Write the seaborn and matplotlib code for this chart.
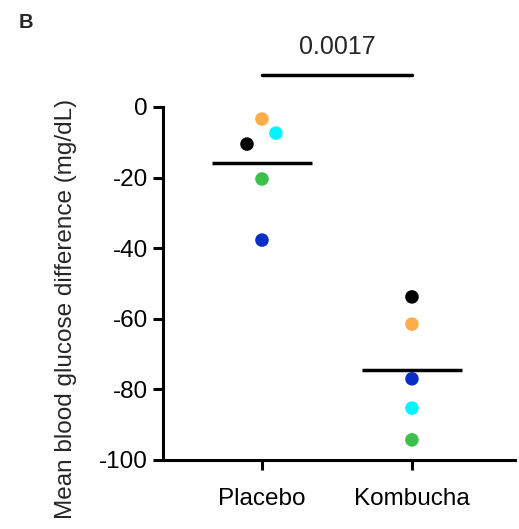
import numpy as np
import matplotlib
matplotlib.use("Agg")
import matplotlib.pyplot as plt
import seaborn as sns
import pandas as pd

# data
groups = ["Placebo", "Kombucha"]
subjects = ["orange", "cyan", "black", "green", "blue"]
placebo = [-3.4, -7.4, -10.5, -20.4, -37.7]
kombucha = [-61.5, -85.3, -53.8, -94.3, -77.0]
# horizontal spread used to keep overlapping dots apart (category units)
spread_placebo = [0.0, 0.093, -0.1, 0.0, 0.0]
spread_kombucha = [0.0, 0.0, 0.0, 0.0, 0.0]
p_value = "0.0017"

colors = {"orange": "#FFAD4A", "cyan": "#00F5FF", "black": "#000000",
          "green": "#3CC04A", "blue": "#0A2FC8"}

sns.set_style("ticks")
plt.rcParams["font.family"] = ["Liberation Sans", "DejaVu Sans"]
plt.rcParams["axes.unicode_minus"] = False

df = pd.DataFrame({
    "group": [groups[0]] * 5 + [groups[1]] * 5,
    "subject": subjects * 2,
    "value": placebo + kombucha,
    "spread": spread_placebo + spread_kombucha,
})
df["xpos"] = df["group"].map({g: i for i, g in enumerate(groups)}) + df["spread"]

fig = plt.figure(figsize=(5.19, 5.29), dpi=100)
ax = fig.add_axes([163 / 519, 1 - 460 / 529, (515 - 163) / 519, (460 - 107) / 529])

sns.scatterplot(data=df, x="xpos", y="value", hue="subject", palette=colors,
                s=95, linewidth=0, legend=False, ax=ax, zorder=3)

# mean lines
means = df.groupby("group", sort=False)["value"].mean()
for i, g in enumerate(groups):
    ax.hlines(means[g], i - 0.333, i + 0.333, color="black", lw=2.5, zorder=2)

ax.set_xlim(-0.66, 1.687)
ax.set_ylim(-100, 0)
ax.set_yticks([0, -20, -40, -60, -80, -100])
ax.set_xticks(range(len(groups)))
ax.set_xticklabels(groups)
ax.set_xlabel("")
ax.set_ylabel("")
sns.despine(ax=ax)
for s in ["left", "bottom"]:
    ax.spines[s].set_linewidth(2.2)
    ax.spines[s].set_color("black")
ax.tick_params(axis="both", width=2.2, length=7, labelsize=17.5, pad=4,
               color="black", labelcolor="black")
ax.tick_params(axis="x", pad=13)

# significance bar
ax.plot([0, 1], [9, 9], color="black", lw=2.5, clip_on=False)
ax.text(0.5, 13.5, p_value, ha="center", va="bottom", fontsize=18)

fig.text(66 / 519, 1 - 309 / 529, "Mean blood glucose difference (mg/dL)",
         rotation=90, ha="center", va="center", fontsize=17.5)
fig.text(19 / 519, 1 - 23 / 529, "B", ha="left", va="center",
         fontsize=14.5, fontweight="bold")

fig.savefig("out.png", dpi=100)
